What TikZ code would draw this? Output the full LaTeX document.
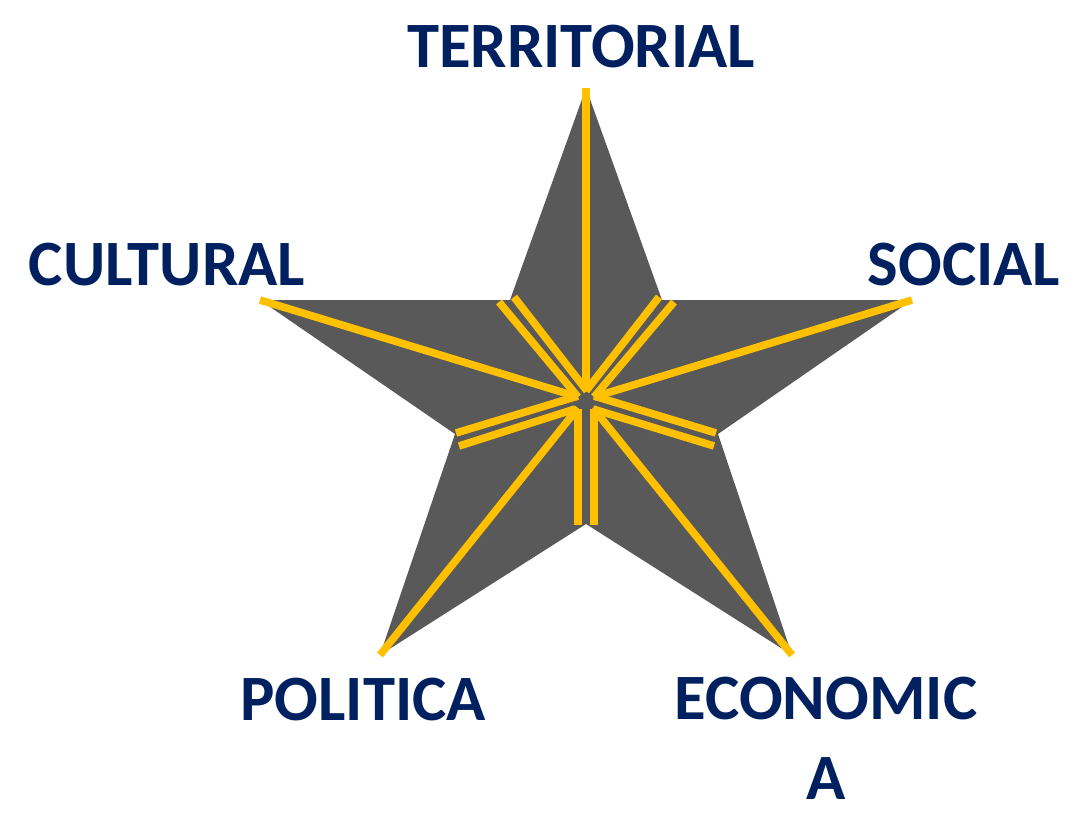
\documentclass[tikz,border=0pt]{standalone}
\usepackage{fontspec}
\setmainfont{Carlito}
\definecolor{navy}{HTML}{002060}
\definecolor{stargray}{HTML}{595959}
\definecolor{gold}{HTML}{FFC000}
\tikzset{
  ray/.style={draw=gold, line width=5.4pt},
  dim/.style={text=navy, font=\fontsize{46}{57}\selectfont\bfseries, align=center}
}
\begin{document}
\begin{tikzpicture}[x=0.025cm, y=-0.025cm]
  \useasboundingbox ( 0, 0 ) rectangle ( 1077, 814 );
  % puntas y vertices interiores
  \coordinate (top) at ( 586, 88 );
  \coordinate (right) at ( 912, 300 );
  \coordinate (botright) at ( 792, 655 );
  \coordinate (botleft) at ( 380, 655 );
  \coordinate (left) at ( 260, 300 );
  \coordinate (inUL) at ( 510, 300 );
  \coordinate (inUR) at ( 662, 300 );
  \coordinate (inR) at ( 718, 434 );
  \coordinate (inB) at ( 586, 524 );
  \coordinate (inL) at ( 455, 434 );

  % estrella
  \path [fill=stargray] (top) -- (inUR) -- (right) -- (inR) -- (botright) -- (inB)
    -- (botleft) -- (inL) -- (left) -- (inUL) -- cycle;

  % rayos de las puntas
  \draw [ray] (top) -- ( 586, 385 );
  \draw [ray] (left) -- ( 578, 397 );
  \draw [ray] (right) -- ( 594, 397 );
  \draw [ray] (botleft) -- ( 578, 408 );
  \draw [ray] (botright) -- ( 593, 408 );

  % rayos dobles de los vertices interiores
  \draw [ray] ( 499, 302 ) -- ( 578, 397 );
  \draw [ray] ( 514, 297 ) -- ( 587, 391 );
  \draw [ray] ( 659, 297 ) -- ( 586, 391 );
  \draw [ray] ( 674, 302 ) -- ( 594, 397 );
  \draw [ray] ( 456, 433 ) -- ( 578, 396 );
  \draw [ray] ( 459, 446 ) -- ( 575, 409 );
  \draw [ray] ( 716, 433 ) -- ( 594, 396 );
  \draw [ray] ( 714, 446 ) -- ( 593, 409 );
  \draw [ray] ( 578, 525 ) -- ( 578, 409 );
  \draw [ray] ( 594, 525 ) -- ( 594, 409 );

  % etiquetas
  \node [dim] (territorial) at ( 581, 47 ) {TERRITORIAL};
  \node [dim] (cultural) at ( 167, 265 ) {CULTURAL};
  \node [dim] (social) at ( 964, 265 ) {SOCIAL};
  \node [dim] (politica) at ( 363, 700 ) {POLITICA};
  \node [dim, anchor=north] (economica) at ( 826, 672 ) {ECONOMIC\\A};
\end{tikzpicture}
\end{document}
